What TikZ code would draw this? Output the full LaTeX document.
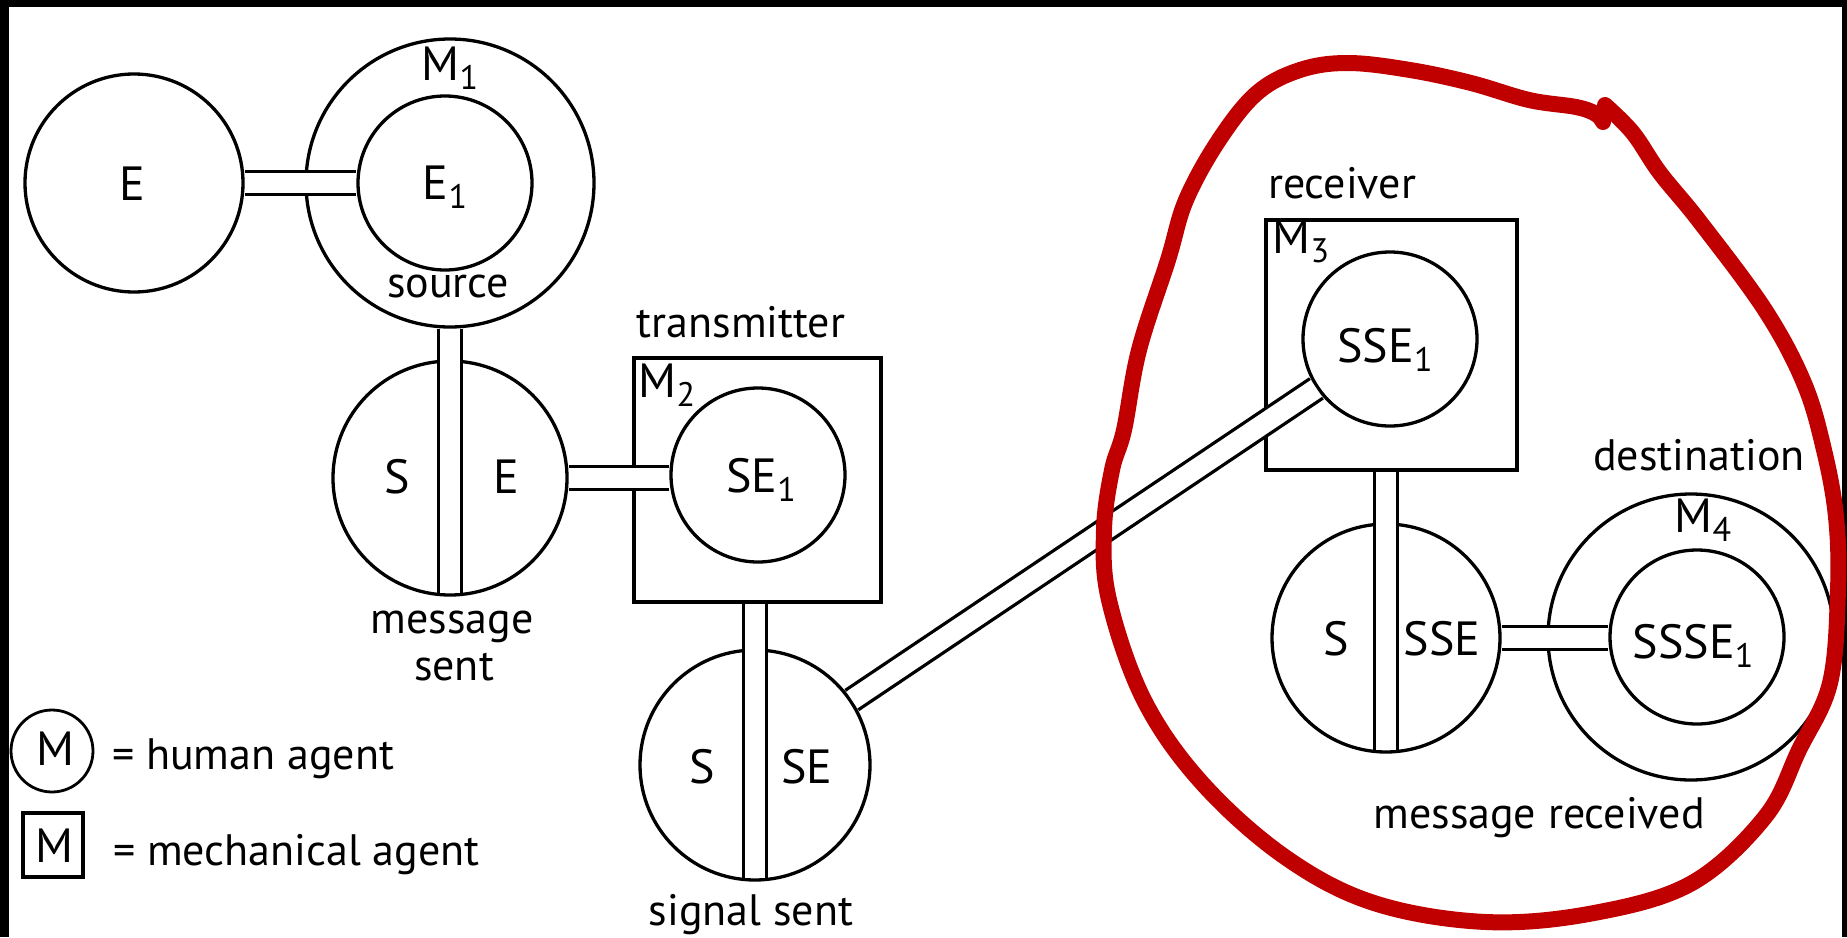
\documentclass[tikz,border=0pt]{standalone}
\usepackage{fontspec}
\setmainfont{PT Sans}
\definecolor{markred}{RGB}{192,0,0}
\newcommand\sbs[1]{\raisebox{-9pt}{\fontsize{34}{34}\selectfont #1}}
\begin{document}
\begin{tikzpicture}[x=1pt,y=-1pt,
  ring/.style={circle,draw,line width=3.3pt,inner sep=0pt,outer sep=0pt},
  agentbox/.style={draw,line width=4.5pt,inner sep=0pt,outer sep=0pt},
  link/.style={line width=3.3pt,double=white,double distance=20pt,shorten <=1.65pt,shorten >=1.65pt},
  caps/.style={font={\fontsize{48}{50}\selectfont},inner sep=0pt,anchor=base},
  words/.style={font={\fontsize{44}{46}\selectfont},inner sep=0pt,anchor=base},
  redloop/.style={line width=16pt,draw=markred,line cap=round,line join=round},
]
\fill[white] (0,0) rectangle (1847,937);
\useasboundingbox (0,0) rectangle (1847,937);
% frame remnants
\fill[black] (0,0) rectangle (1847,7);
\fill[black] (0,0) rectangle (9,937);
\fill[black] (1842,0) rectangle (1847,937);

% agents and states
\node[ring,minimum size=218pt] (E) at (134,183) {};
\node[ring,minimum size=288pt] (M1) at (450,183) {};
\node[ring,minimum size=174pt] (E1) at (445,183) {};
\node[ring,minimum size=234pt] (msg) at (450,478) {};
\node[agentbox,minimum width=247pt,minimum height=244pt] (M2) at (757.5,480) {};
\node[ring,minimum size=174pt] (SE1) at (758,475) {};
\node[ring,minimum size=230pt] (sig) at (755,765) {};
\node[agentbox,minimum width=251pt,minimum height=250pt] (M3) at (1391.5,345) {};
\node[ring,minimum size=174pt] (SSE1) at (1390,339) {};
\node[ring,minimum size=228pt] (rec) at (1386,638) {};
\node[ring,minimum size=286pt] (M4) at (1691,637) {};
\node[ring,minimum size=174pt] (SSSE1) at (1697,637) {};

% legend
\node[ring,minimum size=82pt,line width=2.8pt] (keyH) at (52,751) {};
\node[agentbox,minimum width=60pt,minimum height=64pt,line width=3.5pt] (keyM) at (53,845) {};

% connectors
\draw[link] (E.east) -- (E.east -| E1.west);
\draw[link] (M1.south) -- (msg.south);
\draw[link] (msg.east) -- (msg.east -| SE1.west);
\draw[link,shorten <=2.25pt] (M2.south -| sig) -- (sig.south);
\draw[link] (sig) -- (SSE1);
\draw[link,shorten <=2.25pt] (M3.south -| rec) -- (rec.south);
\draw[link] (rec.east) -- (rec.east -| SSSE1.west);

% labels
\node[caps] (tE) at (132,200) {E};
\node[caps] (tE1) at (445,199) {E\sbs{1}};
\node[caps] (tM1) at (450,80) {M\sbs{1}};
\node[words] (tsrc) at (448,297) {source};
\node[caps] (tS1) at (397,493) {S};
\node[caps] (tE2) at (506,493) {E};
\node[words] (tmsg) at (452,633) {message};
\node[words] (tsent) at (454,680) {sent};
\node[words] (ttx) at (741,337) {transmitter};
\node[caps] (tM2) at (667,397) {M\sbs{2}};
\node[caps] (tSE1) at (761,492) {SE\sbs{1}};
\node[caps] (tS2) at (702,783) {S};
\node[caps] (tSE) at (807,783) {SE};
\node[words] (tsig) at (751,925) {signal sent};
\node[words] (trx) at (1342,198) {receiver};
\node[caps] (tM3) at (1301,253) {M\sbs{3}};
\node[caps] (tSSE1) at (1385,362) {SSE\sbs{1}};
\node[words] (tdest) at (1699,470) {destination};
\node[caps] (tM4) at (1703,532) {M\sbs{4}};
\node[caps] (tSSSE1) at (1693,658) {SSSE\sbs{1}};
\node[caps] (tS3) at (1336,655) {S};
\node[caps] (tSSE) at (1442,655) {SSE};
\node[words] (trec) at (1539,828) {message received};
\node[caps] (kH) at (55,765) {M};
\node[words,anchor=base west] (kHt) at (112,769) {= human agent};
\node[caps] (kM) at (54,862) {M};
\node[words,anchor=base west] (kMt) at (113,865) {= mechanical agent};

% red hand-drawn loop
\draw[redloop] plot[smooth,tension=0.6] coordinates {
 (1605,105) (1633,133) (1660,173) (1700,222) (1765,310) (1804,383) (1824,450)
 (1836,517) (1838,590) (1830,683) (1799,750) (1765,817) (1692,883) (1594,913)
 (1486,922) (1374,903) (1285,857) (1202,783) (1144,700) (1109,600) (1104,530)
 (1112,470) (1124,430) (1139,350) (1168,260) (1186,200) (1219,140) (1257,93)
 (1300,70) (1348,63) (1410,70) (1471,83) (1529,100) (1576,107) (1596,114) (1603,122)};
\end{tikzpicture}
\end{document}
